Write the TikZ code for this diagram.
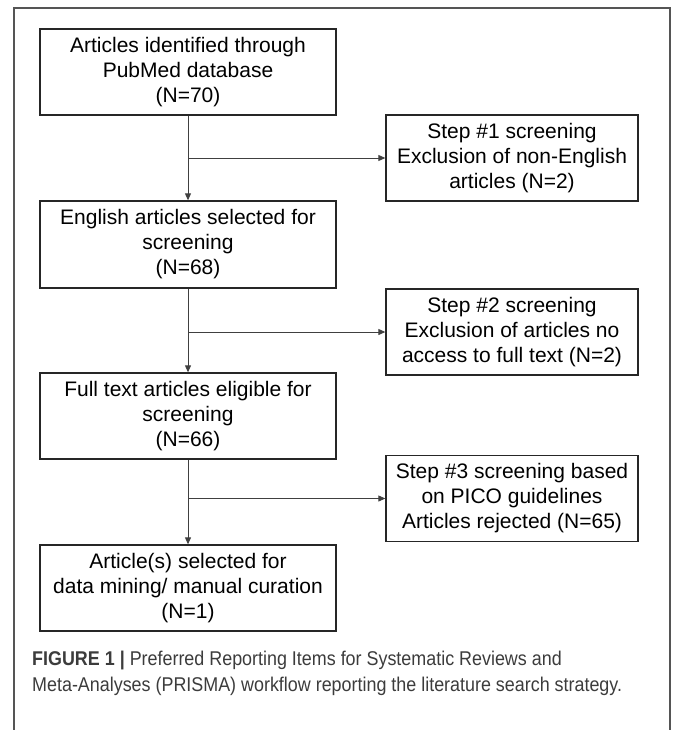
\documentclass[tikz,border=0pt]{standalone}
\usepackage{fontspec}
\setmainfont{Liberation Sans}
\newfontfamily\capfont[FakeStretch=0.9]{Liberation Sans}
\usetikzlibrary{arrows.meta}
\definecolor{framegray}{HTML}{555555}
\definecolor{capgray}{HTML}{3C3C3C}

\begin{document}
\begin{tikzpicture}[x=1pt,y=-1pt,
  box/.style={draw=black!85, line width=1.3pt, minimum width=296pt, minimum height=86pt,
    align=center, inner sep=0pt, font=\fontsize{21}{25}\selectfont},
  stepbox/.style={box, minimum width=252pt},
  link/.style={draw=black!75, line width=0.9pt, -{Triangle[length=7pt,width=6pt]}}]
\useasboundingbox (0,0) rectangle (673,730);
% outer frame
\draw[framegray, line width=1.2pt] (14,730) |- (670,8) -- (670,730);

% main column
\node [box] (ident) at (188,72) {Articles identified through\\PubMed database\\(N=70)};
\node [box, minimum height=87pt] (english) at (188,244.5) {English articles selected for\\screening\\(N=68)};
\node [box] (fulltext) at (188,416) {Full text articles eligible for\\screening\\(N=66)};
\node [box] (selected) at (188,588) {Article(s) selected for\\data mining/ manual curation\\(N=1)};

% screening steps
\node [stepbox] (step1) at (512,158) {Step \#1 screening\\Exclusion of non-English\\articles (N=2)};
\node [stepbox] (step2) at (512,332) {Step \#2 screening\\Exclusion of articles no\\access to full text (N=2)};
\node [stepbox] (step3) at (512,498.5) {Step \#3 screening based\\on PICO guidelines\\Articles rejected (N=65)};

% connectors
\draw [link] (ident) -- (english);
\draw [link] (english) -- (fulltext);
\draw [link] (fulltext) -- (selected);
\draw [link] (ident.south |- step1.west) -- (step1.west);
\draw [link] (english.south |- step2.west) -- (step2.west);
\draw [link] (fulltext.south |- step3.west) -- (step3.west);

% caption
\node [anchor=base west, align=left, inner sep=0pt, text=capgray,
  font=\capfont\fontsize{19.9}{26}\selectfont] (caption) at (32,691)
  {\textbf{FIGURE 1 |} Preferred Reporting Items for Systematic Reviews and\\
   Meta-Analyses (PRISMA) workflow reporting the literature search strategy.};
\end{tikzpicture}
\end{document}
